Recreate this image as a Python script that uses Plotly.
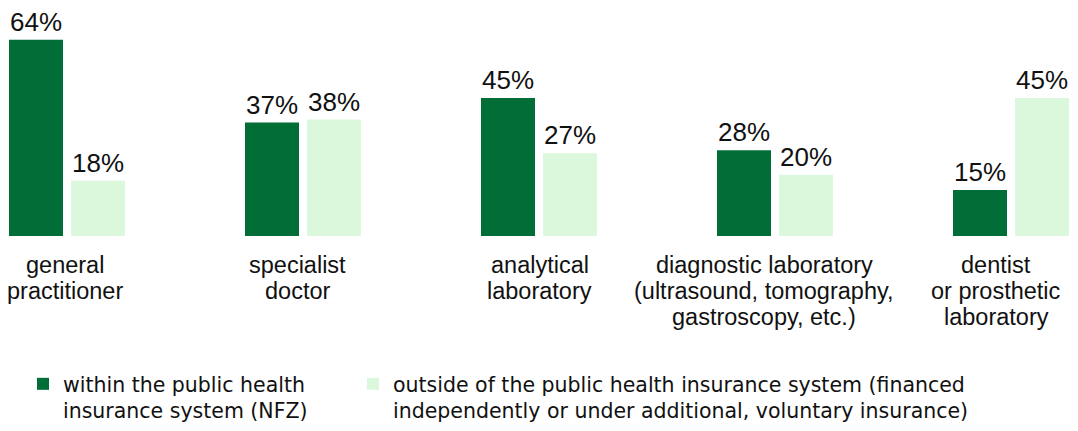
import plotly.graph_objects as go

categories = [
    "general<br>practitioner",
    "specialist<br>doctor",
    "analytical<br>laboratory",
    "diagnostic laboratory<br>(ultrasound, tomography,<br>gastroscopy, etc.)",
    "dentist<br>or prosthetic<br>laboratory",
]
within_nfz = [64, 37, 45, 28, 15]
outside_nfz = [18, 38, 27, 20, 45]
series_names = [
    "within the public health<br>insurance system (NFZ)",
    "outside of the public health insurance system (financed<br>independently or under additional, voluntary insurance)",
]

# style / layout settings
DARK = "#006E36"
LIGHT = "#DCF8DC"
TEXT = "#111111"
label_xshift = [-3, -6, 0, -11.5, -15.5]
W, H = 1070, 423          # figure size (page has an 8px body margin)
base_px = 238             # baseline position from top of figure
px_per_pct = 3.2
unit = 236.0              # px per category
center0 = 59.5            # px of first category centre
bar_w = 54 / unit
legend_top = 372

xpos = list(range(len(categories)))

fig = go.Figure()
for vals, name, col, off, lg in [
    (within_nfz, series_names[0], DARK, -58.5 / unit, "legend"),
    (outside_nfz, series_names[1], LIGHT, 3.5 / unit, "legend2"),
]:
    fig.add_trace(go.Bar(
        x=xpos, y=vals, name=name, legend=lg,
        marker=dict(color=col, line=dict(width=0)),
        width=bar_w, offset=off,
        text=[f"{v}%" for v in vals], textposition="outside",
        textfont=dict(family="Liberation Sans", size=26, color=TEXT),
        constraintext="none", cliponaxis=False, hoverinfo="skip",
    ))

# category labels, one line per annotation to keep tight line spacing
annotations = []
for i, cat in enumerate(categories):
    for j, line in enumerate(cat.split("<br>")):
        annotations.append(dict(
            x=xpos[i], xref="x", y=0, yref="y",
            text=line, showarrow=False,
            xanchor="center", yanchor="top",
            xshift=label_xshift[i], yshift=-14 - 26 * j,
            font=dict(family="Liberation Sans", size=23.5, color=TEXT),
        ))

legend_common = dict(
    orientation="v", xanchor="left",
    y=-(legend_top - base_px) / base_px, yanchor="top",
    valign="top", bgcolor="rgba(0,0,0,0)",
    font=dict(family="DejaVu Sans", size=20.5, color=TEXT),
    itemclick=False,
)

fig.update_layout(
    width=W, height=H,
    margin=dict(l=0, r=0, t=0, b=H - base_px, pad=0),
    paper_bgcolor="white", plot_bgcolor="white",
    showlegend=True,
    annotations=annotations,
    legend=dict(x=15 / W, **legend_common),
    legend2=dict(x=345 / W, **legend_common),
    xaxis=dict(
        range=[-center0 / unit, (W - center0) / unit],
        showticklabels=False, showgrid=False, zeroline=False,
        showline=False, ticks="",
    ),
    yaxis=dict(
        range=[0, base_px / px_per_pct], visible=False,
        showgrid=False, zeroline=False,
    ),
)

fig.write_html("out.html")
